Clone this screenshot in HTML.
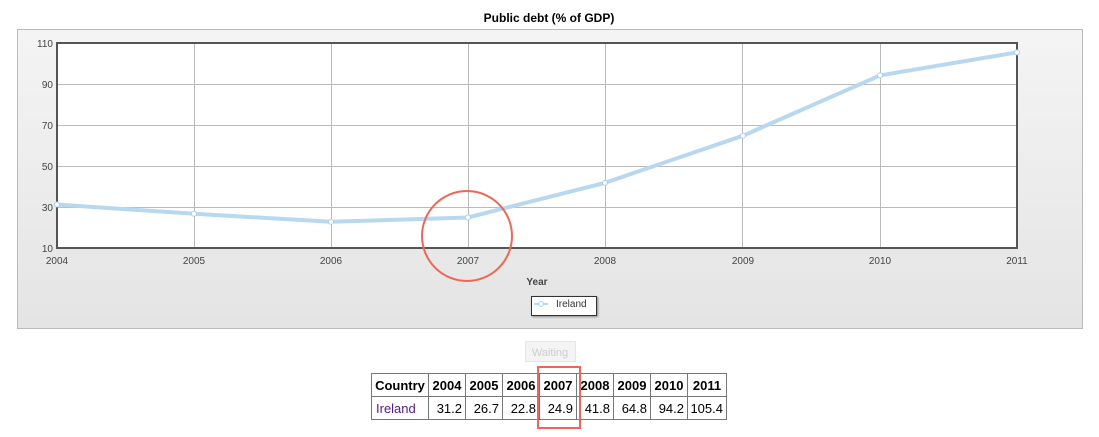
<!DOCTYPE html>
<html><head><meta charset="utf-8"><style>
body{margin:0;width:1099px;height:437px;background:#fff;font-family:"Liberation Sans",sans-serif;position:relative;overflow:hidden}
table{position:absolute;left:371px;top:373px;border-collapse:collapse;font-size:13px}
td,th{border:1px solid #777;padding:0;height:22px;text-align:right;padding-right:3px}
th{text-align:center;padding:0}
</style></head><body>
<svg width="1099" height="437" style="position:absolute;left:0;top:0">
<defs><linearGradient id="g" x1="0" y1="0" x2="0" y2="1"><stop offset="0" stop-color="#f4f4f4"/><stop offset="1" stop-color="#e4e4e4"/></linearGradient></defs>
<text x="549" y="22" text-anchor="middle" font-size="12" font-weight="bold" font-family="Liberation Sans">Public debt (% of GDP)</text>
<rect x="17.5" y="29.5" width="1065" height="299" fill="url(#g)" stroke="#bbb"/>
<rect x="57" y="43" width="960" height="205" fill="#fff"/>
<g stroke="#bbb" stroke-width="1">
<line x1="57" y1="84.5" x2="1017" y2="84.5"/><line x1="57" y1="125.5" x2="1017" y2="125.5"/><line x1="57" y1="166.5" x2="1017" y2="166.5"/><line x1="57" y1="207.5" x2="1017" y2="207.5"/>
<line x1="194.5" y1="43" x2="194.5" y2="248"/><line x1="331.5" y1="43" x2="331.5" y2="248"/><line x1="468.5" y1="43" x2="468.5" y2="248"/><line x1="605.5" y1="43" x2="605.5" y2="248"/><line x1="742.5" y1="43" x2="742.5" y2="248"/><line x1="880.5" y1="43" x2="880.5" y2="248"/>
</g>
<path d="M57 43H1017V248H57Z" fill="none" stroke="#555" stroke-width="2"/>
<g font-size="10" fill="#444" font-family="Liberation Sans" text-anchor="end">
<text x="53" y="47">110</text><text x="53" y="88">90</text><text x="53" y="129">70</text><text x="53" y="170">50</text><text x="53" y="211">30</text><text x="53" y="252">10</text></g>
<g font-size="10" fill="#444" font-family="Liberation Sans" text-anchor="middle">
<text x="57" y="264">2004</text><text x="194" y="264">2005</text><text x="331" y="264">2006</text><text x="468" y="264">2007</text><text x="605" y="264">2008</text><text x="743" y="264">2009</text><text x="880" y="264">2010</text><text x="1017" y="264">2011</text></g>
<text x="537" y="285" text-anchor="middle" font-size="10" font-weight="bold" fill="#444" font-family="Liberation Sans">Year</text>
<polyline points="57,204.5 194,213.8 331,221.8 468,217.5 605,182.8 743,135.7 880,75.4 1017,52.4" fill="none" stroke="#b8d8f0" stroke-width="4"/>
<g fill="#fff" stroke="#a8d0f0" stroke-width="1">
<circle cx="57" cy="204.5" r="2.5"/><circle cx="194" cy="213.8" r="2.5"/><circle cx="331" cy="221.8" r="2.5"/><circle cx="468" cy="217.5" r="2.5"/><circle cx="605" cy="182.8" r="2.5"/><circle cx="743" cy="135.7" r="2.5"/><circle cx="880" cy="75.4" r="2.5"/><circle cx="1017" cy="52.4" r="2.5"/></g>
<rect x="531.5" y="296.5" width="65" height="19" fill="#fff" stroke="#333" style="filter:drop-shadow(1px 1px 1px #888)"/>
<line x1="534" y1="304" x2="548" y2="304" stroke="#b8d8f0" stroke-width="2"/><circle cx="541" cy="304" r="2.5" fill="#fff" stroke="#a8d0f0"/>
<text x="556" y="307" font-size="10" fill="#333" font-family="Liberation Sans">Ireland</text>
<circle cx="467" cy="236" r="45" fill="none" stroke="#ee6655" stroke-width="2"/>
<rect x="525.5" y="341.5" width="50" height="20" fill="#f4f4f4" stroke="#e6e6e6"/>
<text x="550" y="356" text-anchor="middle" font-size="11" fill="#ccc" font-family="Liberation Sans">Waiting</text>
</svg>
<table>
<tr><th style="width:56px">Country</th><th style="width:36px">2004</th><th style="width:36px">2005</th><th style="width:36px">2006</th><th style="width:36px">2007</th><th style="width:36px">2008</th><th style="width:36px">2009</th><th style="width:36px">2010</th><th style="width:38px">2011</th></tr>
<tr><td style="text-align:left;padding-left:4px;color:#551a8b">Ireland</td><td>31.2</td><td>26.7</td><td>22.8</td><td>24.9</td><td>41.8</td><td>64.8</td><td>94.2</td><td>105.4</td></tr>
</table>
<div style="position:absolute;left:537px;top:366px;width:40px;height:59px;border:2px solid #ee6655"></div>
</body></html>
